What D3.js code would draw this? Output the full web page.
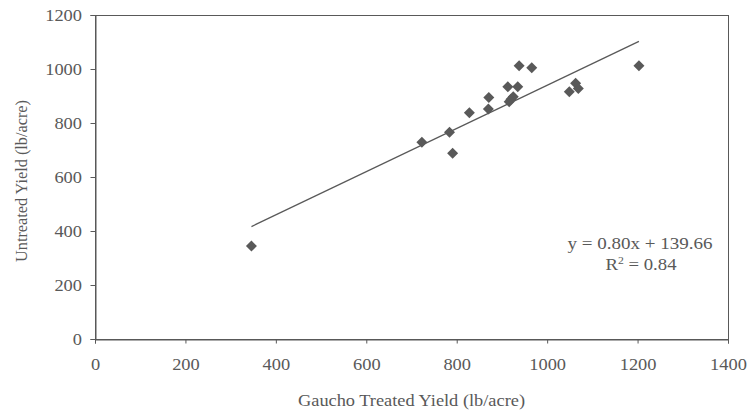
<!DOCTYPE html>
<html>
<head>
<meta charset="utf-8">
<script src="https://cdn.jsdelivr.net/npm/d3@7"></script>
<style>
  body { margin: 0; background: #fff; }
  text { font-family: "Liberation Serif", "Times New Roman", serif; fill: #595959; }
</style>
</head>
<body>
<div id="chart"></div>
<script>
'use strict';

// treated yield (x) vs untreated yield (y), lb/acre
var treated   = [346, 723, 784, 791, 828, 870, 871, 913, 916, 920, 925, 935, 938, 966, 1049, 1063, 1069, 1203];
var untreated = [344, 729, 766, 688, 838, 852, 894, 934, 879, 888, 897, 934, 1012, 1005, 916, 947, 928, 1012];

var xTicks = [0, 200, 400, 600, 800, 1000, 1200, 1400];
var yTicks = [0, 200, 400, 600, 800, 1000, 1200];

var slope = 0.80, intercept = 139.66, r2 = 0.84;

var width = 751, height = 413;
var plotLeft = 95, plotRight = 728, plotTop = 15, plotBottom = 339;
var grey = "#595959";

var svg = d3.select("#chart").append("svg")
    .attr("width", width)
    .attr("height", height);

var x = d3.scaleLinear().domain([0, 1400]).range([plotLeft, plotRight]);
var y = d3.scaleLinear().domain([0, 1200]).range([plotBottom, plotTop]);

// plot frame
svg.append("rect")
    .attr("x", plotLeft + 0.5)
    .attr("y", plotTop + 0.5)
    .attr("width", plotRight - plotLeft)
    .attr("height", plotBottom - plotTop)
    .attr("fill", "none")
    .attr("stroke", grey);

var xAxis = svg.append("g")
    .attr("transform", "translate(0," + (plotBottom + 0.5) + ")")
    .call(d3.axisBottom(x).tickValues(xTicks).tickSize(4).tickPadding(15).tickFormat(d3.format("d")));

var yAxis = svg.append("g")
    .attr("transform", "translate(" + (plotLeft + 0.5) + ",0)")
    .call(d3.axisLeft(y).tickValues(yTicks).tickSize(5).tickPadding(8.5).tickFormat(d3.format("d")));

// the original text is drawn a little wide, so stretch labels to match
[xAxis, yAxis].forEach(function (ax) {
    ax.attr("font-family", "'Liberation Serif', serif");
    ax.select(".domain").attr("stroke", grey);
    ax.selectAll(".tick line").attr("stroke", grey);
    ax.selectAll(".tick text")
        .style("font-family", "'Liberation Serif', serif")
        .style("font-size", "16px")
        .attr("fill", grey)
        .attr("textLength", function (d) { return String(d).length * 9.2; })
        .attr("lengthAdjust", "spacingAndGlyphs");
});

// trend line
var xs = d3.extent(treated);
svg.append("line")
    .attr("x1", x(xs[0]))
    .attr("y1", y(slope * xs[0] + intercept))
    .attr("x2", x(xs[1]))
    .attr("y2", y(slope * xs[1] + intercept))
    .attr("stroke", grey)
    .attr("stroke-width", 1.3);

// diamond markers
var pts = treated.map(function (d, i) { return [d, untreated[i]]; });
svg.append("g")
    .selectAll("path")
    .data(pts)
    .enter().append("path")
    .attr("transform", function (d) { return "translate(" + x(d[0]) + "," + y(d[1]) + ")"; })
    .attr("d", "M0,-5.5L5.5,0L0,5.5L-5.5,0Z")
    .attr("fill", grey);

// equation
var eq = svg.append("g").attr("text-anchor", "middle").style("font-size", "16px");
eq.append("text")
    .attr("x", 640).attr("y", 249)
    .attr("textLength", 145)
    .attr("lengthAdjust", "spacingAndGlyphs")
    .text("y = " + slope.toFixed(2) + "x + " + intercept.toFixed(2));
var r = eq.append("text")
    .attr("x", 641).attr("y", 270)
    .attr("textLength", 71)
    .attr("lengthAdjust", "spacingAndGlyphs");
r.append("tspan").text("R");
r.append("tspan").attr("dy", -6).style("font-size", "10px").text("2");
r.append("tspan").attr("dy", 6).text(" = " + r2.toFixed(2));

// axis titles
svg.append("text")
    .attr("x", 411.5)
    .attr("y", 406)
    .attr("text-anchor", "middle")
    .attr("textLength", 227)
    .attr("lengthAdjust", "spacingAndGlyphs")
    .style("font-size", "16px")
    .text("Gaucho Treated Yield (lb/acre)");

svg.append("text")
    .attr("transform", "translate(27,181) rotate(-90)")
    .attr("text-anchor", "middle")
    .attr("textLength", 162)
    .attr("lengthAdjust", "spacingAndGlyphs")
    .style("font-size", "16px")
    .text("Untreated Yield (lb/acre)");
</script>
</body>
</html>
